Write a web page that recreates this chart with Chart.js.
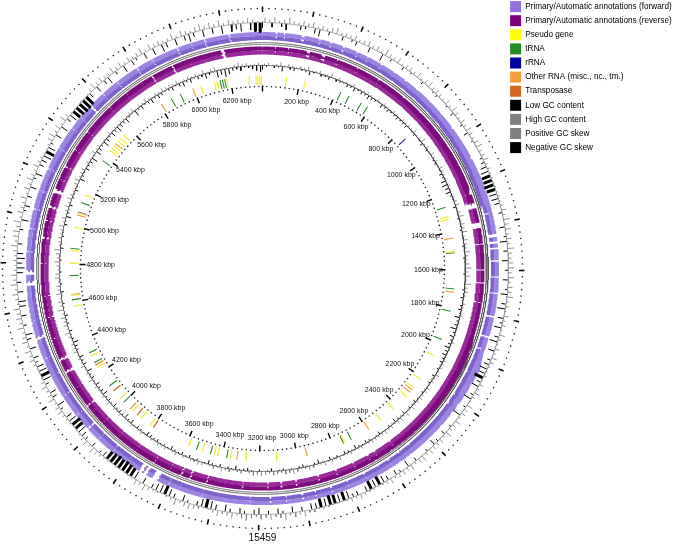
<!DOCTYPE html>
<html>
<head>
<meta charset="utf-8">
<title>Genome map</title>
<script src="https://cdn.jsdelivr.net/npm/chart.js@4"></script>
<style>
  html, body { margin: 0; padding: 0; background: #fff; }
  #wrap { position: relative; width: 677px; height: 545px; filter: blur(0.3px); }
</style>
</head>
<body>
<div id="wrap"><canvas id="map"></canvas></div>
<script>
const genomeLength = 6370;
const binSize = 20;
const tickKbp = [200, 400, 600, 800, 1000, 1200, 1400, 1600, 1800, 2000, 2200, 2400, 2600, 2800, 3000, 3200,
    3400, 3600, 3800, 4000, 4200, 4400, 4600, 4800, 5000, 5200, 5400, 5600, 5800, 6000, 6200];
const footerLabel = '15459';

const legendNames = ['Primary/Automatic annotations (forward)', 'Primary/Automatic annotations (reverse)', 'Pseudo gene',
    'tRNA', 'rRNA', 'Other RNA (misc., nc., tm.)', 'Transposase', 'Low GC content', 'High GC content',
    'Positive GC skew', 'Negative GC skew'];

// gaps between genes, centre and width in kbp
const forwardGaps = [175, 357, 536, 945, 1098, 1450, 1480, 1505, 1802, 1892, 2063, 2176, 2224, 2596, 2719, 2877, 3008,
    3663, 3710, 3733, 4025, 4473, 4712, 4760, 5036, 5545, 5803, 5997, 6120, 6228,
    60, 95, 250, 300, 420, 470, 600, 660, 720, 800, 870, 1000, 1160, 1250, 1350, 1560, 1630, 1700, 1950, 2000, 2120,
    2300, 2480, 2540, 2650, 2800, 2950, 3080, 3150, 3240, 3350, 3450, 3550, 3600, 3800, 3880, 3960, 4100, 4200, 4300,
    4380, 4550, 4620, 4850, 4950, 5120, 5220, 5320, 5420, 5480, 5620, 5700, 5880, 6060, 6180, 6300];
const forwardGapWidths = [10, 8, 6, 6, 8, 12, 8, 6, 6, 6, 6, 12, 12, 6, 6, 6, 5,
    28, 18, 18, 10, 12, 18, 18, 6, 10, 6, 6, 6, 6,
    3, 3, 3, 3, 3, 3, 3, 3, 3, 3, 3, 3, 3, 3, 3, 3, 3, 3, 3, 3, 3,
    3, 3, 3, 3, 3, 3, 3, 3, 3, 3, 3, 3, 3, 3, 3, 3, 3, 3, 3,
    3, 3, 3, 3, 3, 3, 3, 3, 3, 3, 3, 3, 3, 3, 3, 3];
const reverseGaps = [212, 283, 6188, 5947, 5843, 1232, 1300, 1393, 2541, 2628, 2665, 2743, 2831, 2920, 3026, 3097,
    3279, 3443, 3521, 3565, 4349, 4285, 4104, 5142, 5066, 4920, 5262,
    60, 120, 350, 450, 560, 700, 800, 900, 1000, 1100, 1180, 1480, 1600, 1660, 1750, 1900, 2000, 2080, 2200, 2300,
    2400, 2480, 3160, 3360, 3620, 3700, 3800, 3900, 4000, 4200, 4450, 4550, 4650, 4800, 5000, 5200, 5350, 5450,
    5600, 5700, 6030, 6100, 6270];
const reverseGapWidths = [13, 13, 18, 8, 8, 28, 23, 23, 8, 6, 6, 6, 6, 6, 6, 6,
    6, 6, 8, 8, 13, 13, 8, 18, 10, 8, 8,
    2, 2, 2, 2, 2, 2, 2, 2, 2, 2, 2, 2, 2, 2, 2, 2, 2, 2, 2, 2,
    2, 2, 2, 2, 2, 2, 2, 2, 2, 2, 2, 2, 2, 2, 2, 2, 2, 2,
    2, 2, 2, 2, 2];

// single features, position in kbp
const pseudoKbp = [127, 228, 1317, 1330, 1504, 2070, 2212, 2270, 2329, 2424, 2513, 2737, 3110, 3271, 3355, 3424, 3442,
    3508, 3585, 3815, 3875, 3933, 4027, 4230, 4300, 4577, 4636, 4805, 4873, 4996, 5075, 5175, 5445, 5460, 5478, 5510,
    5531, 5554, 6040, 6113, 6130, 6180, 6300, 6335, 6345, 6355, 6365];
const trnaKbp = [424, 471, 546, 584, 1265, 1510, 1700, 1819, 1975, 2700, 2745, 3375, 3463, 3540, 4000, 4114, 4260, 4318,
    4612, 4740, 4884, 5131, 5379, 5871, 5924, 6145, 6158, 6170];
const rrnaKbp = [846, 5078];
const otherRnaKbp = [1433, 1718, 2283, 2300, 2593, 2948, 3320, 3951, 4245, 4640, 5063, 5492, 5811, 5995];
const transposaseKbp = [3795, 3903, 4080, 4246];

// GC plots, one value per 20 kbp bin
const negativeSkew = [
    6, 0, 5, 0, 4, 7, 0, 0, 5, 3, 0, 6, 8, 0, 4, 0, 0, 5, 0, 3,
    5, 0, 0, 6, 0, 0, 8, 0, 3, 0, 0, 4, 0, 2, 0, 0, 3, 0, 0, 2,
    3, 0, 0, 2, 0, 4, 0, 0, 3, 0, 5, 0, 2, 0, 0, 0, 3, 4, 7, 9,
    10, 10, 11, 10, 9, 8, 6, 0, 4, 0, 0, 6, 0, 3, 8, 0, 5, 0, 7, 0,
    4, 0, 6, 0, 3, 7, 0, 5, 9, 0, 6, 3, 8, 0, 5, 9, 0, 7, 0, 4,
    6, 9, 7, 10, 5, 8, 0, 4, 9, 0, 3, 0, 9, 0, 0, 3, 0, 5, 0, 3,
    7, 0, 3, 0, 0, 4, 0, 8, 0, 3, 6, 0, 5, 8, 10, 9, 10, 6, 0, 5,
    4, 9, 10, 9, 10, 11, 9, 10, 6, 7, 0, 5, 0, 7, 0, 3, 6, 0, 4, 0,
    7, 5, 0, 3, 6, 0, 4, 8, 0, 6, 9, 10, 9, 5, 0, 3, 7, 0, 5, 8,
    10, 9, 8, 5, 0, 7, 0, 9, 10, 11, 12, 11, 12, 11, 10, 6, 3, 0, 5, 0,
    4, 6, 9, 10, 11, 9, 7, 0, 3, 8, 0, 5, 7, 0, 4, 9, 10, 9, 8, 3,
    6, 0, 7, 0, 5, 8, 0, 4, 0, 6, 0, 7, 8, 0, 6, 0, 5, 0, 7, 9,
    6, 9, 7, 0, 5, 0, 0, 4, 0, 8, 0, 3, 6, 0, 5, 0, 7, 0, 3, 8,
    0, 5, 6, 9, 10, 8, 3, 0, 7, 0, 8, 0, 5, 9, 10, 11, 12, 12, 11, 6,
    0, 7, 0, 5, 8, 0, 4, 0, 8, 0, 6, 3, 0, 7, 0, 8, 0, 9, 6, 0,
    8, 0, 6, 9, 5, 0, 8, 0, 7, 0, 9, 0, 8, 6, 9, 0, 8, 10, 11];
const positiveSkew = [
    6, 4, 7, 3, 5, 8, 4, 3, 6, 4, 7, 3, 5, 4, 6, 8, 3, 5, 4, 6,
    3, 5, 7, 4, 6, 3, 8, 5, 4, 7, 3, 5, 6, 4, 7, 3, 5, 8, 4, 6,
    5, 3, 6, 4, 8, 5, 3, 6, 4, 7, 5, 3, 6, 8, 4, 5, 7, 3, 4, 2,
    2, 1, 2, 1, 3, 2, 4, 6, 3, 8, 5, 7, 4, 6, 3, 8, 5, 4, 6, 7,
    4, 7, 3, 6, 5, 8, 3, 4, 2, 6, 3, 5, 2, 7, 4, 2, 6, 3, 7, 5,
    3, 2, 4, 1, 5, 3, 7, 4, 2, 8, 5, 6, 3, 7, 5, 4, 8, 3, 6, 4,
    5, 7, 4, 8, 6, 3, 7, 4, 6, 5, 3, 7, 4, 2, 1, 3, 2, 4, 6, 3,
    5, 2, 1, 2, 1, 2, 3, 1, 4, 3, 7, 4, 6, 3, 8, 5, 3, 7, 4, 6,
    3, 5, 8, 6, 3, 7, 5, 3, 7, 4, 2, 1, 3, 5, 7, 6, 3, 8, 4, 2,
    1, 2, 3, 5, 8, 4, 7, 2, 2, 1, 1, 2, 1, 2, 3, 4, 6, 8, 4, 7,
    5, 3, 2, 1, 2, 3, 4, 7, 6, 3, 8, 5, 4, 7, 5, 2, 1, 2, 3, 6,
    4, 8, 3, 7, 5, 3, 8, 4, 7, 5, 8, 3, 4, 7, 3, 8, 5, 7, 3, 2,
    4, 3, 5, 8, 4, 7, 8, 5, 9, 3, 7, 5, 4, 8, 3, 7, 4, 8, 5, 3,
    7, 4, 3, 2, 1, 3, 6, 8, 4, 7, 3, 8, 5, 2, 1, 1, 2, 1, 2, 4,
    8, 5, 7, 4, 3, 8, 4, 7, 3, 6, 4, 5, 8, 3, 7, 4, 6, 3, 4, 7,
    3, 7, 5, 3, 6, 8, 4, 7, 4, 8, 3, 6, 4, 5, 3, 6, 4, 2, 2];
const lowGC = [
    4, 1, 0, 2, 1, 5, 0, 2, 3, 0, 1, 2, 4, 1, 0, 2, 1, 3, 0, 2,
    2, 1, 3, 2, 4, 1, 3, 2, 4, 3, 2, 1, 4, 2, 3, 1, 2, 3, 1, 2,
    3, 0, 1, 2, 0, 1, 3, 0, 2, 1, 0, 1, 2, 0, 1, 3, 2, 5, 6, 4,
    5, 2, 1, 0, 3, 0, 1, 2, 0, 1, 2, 0, 1, 0, 2, 1, 0, 2, 1, 0,
    1, 2, 0, 1, 0, 2, 1, 3, 0, 2, 3, 1, 5, 2, 3, 6, 2, 4, 2, 3,
    5, 3, 4, 2, 3, 1, 2, 0, 3, 1, 2, 0, 1, 2, 0, 1, 3, 1, 2, 0,
    3, 1, 2, 4, 1, 2, 0, 1, 3, 1, 0, 2, 3, 1, 2, 4, 1, 2, 3, 0,
    2, 1, 3, 0, 1, 4, 2, 0, 1, 3, 2, 0, 1, 0, 2, 1, 0, 3, 1, 0,
    2, 0, 1, 3, 2, 1, 4, 1, 2, 0, 3, 1, 2, 4, 1, 0, 2, 1, 3, 1,
    3, 1, 2, 4, 1, 2, 1, 3, 2, 3, 4, 1, 2, 3, 1, 4, 2, 5, 2, 3,
    2, 4, 1, 3, 2, 5, 3, 2, 4, 1, 3, 2, 5, 1, 3, 2, 4, 1, 2, 3,
    5, 2, 1, 3, 0, 2, 1, 3, 0, 1, 2, 0, 1, 3, 0, 2, 1, 0, 2, 1,
    0, 2, 1, 0, 3, 1, 0, 2, 1, 0, 3, 1, 5, 2, 1, 3, 0, 2, 1, 3,
    1, 0, 5, 2, 1, 4, 2, 3, 6, 1, 5, 3, 2, 6, 4, 2, 5, 3, 6, 4,
    3, 5, 2, 1, 6, 2, 4, 1, 3, 5, 2, 4, 3, 1, 2, 4, 1, 3, 5, 2,
    4, 1, 3, 2, 5, 2, 1, 7, 5, 8, 6, 3, 2, 4, 1, 2, 3, 5, 6];
const highGC = [
    2, 3, 1, 2, 4, 1, 3, 2, 1, 3, 2, 4, 1, 2, 3, 1, 2, 4, 1, 3,
    1, 2, 1, 3, 1, 2, 1, 3, 2, 1, 2, 1, 3, 2, 1, 3, 2, 1, 3, 2,
    3, 2, 4, 1, 3, 5, 2, 3, 1, 4, 2, 3, 1, 4, 3, 2, 1, 1, 2, 1,
    1, 2, 3, 4, 1, 3, 5, 2, 4, 3, 5, 2, 4, 3, 2, 5, 3, 2, 4, 6,
    3, 5, 2, 6, 3, 4, 2, 1, 3, 2, 1, 3, 1, 2, 1, 1, 2, 1, 3, 1,
    2, 1, 1, 3, 2, 3, 2, 4, 2, 3, 1, 4, 3, 2, 4, 3, 2, 4, 2, 5,
    2, 4, 3, 1, 3, 2, 4, 3, 2, 3, 4, 2, 1, 3, 2, 1, 3, 2, 1, 4,
    2, 3, 1, 4, 2, 1, 3, 4, 2, 1, 3, 5, 3, 4, 2, 3, 4, 2, 3, 4,
    3, 4, 2, 1, 3, 2, 1, 3, 2, 4, 1, 3, 2, 1, 3, 4, 2, 3, 1, 3,
    1, 3, 2, 1, 3, 2, 3, 1, 2, 1, 1, 3, 2, 1, 3, 1, 2, 1, 3, 2,
    3, 1, 4, 2, 3, 1, 2, 3, 1, 4, 2, 3, 1, 4, 2, 3, 1, 4, 2, 3,
    1, 3, 5, 2, 4, 3, 5, 2, 6, 3, 4, 2, 5, 3, 4, 2, 5, 4, 2, 3,
    5, 3, 4, 6, 2, 3, 4, 2, 3, 5, 2, 4, 1, 3, 4, 2, 5, 3, 2, 1,
    4, 5, 2, 3, 4, 1, 3, 2, 1, 4, 2, 3, 1, 2, 1, 3, 1, 2, 1, 3,
    2, 1, 3, 4, 1, 3, 2, 4, 2, 1, 3, 2, 4, 3, 3, 2, 4, 1, 2, 3,
    2, 3, 2, 4, 1, 3, 4, 1, 1, 2, 1, 3, 4, 2, 3, 1, 2, 3, 1];

const minorStep = 25;
const cx = 262.5, cy = 268.5;
const radii = {
    outerDots: 260, outerTick: [256.5, 262], skewBase: 246, forwardOut: 234.5, forwardIn: 230.5,
    rail: [225.8, 224], reverseOut: 220, reverseIn: 216, gcBase: 203, feature: [184, 193],
    innerDots: 182, innerTick: [177, 183]
};

function polar(kbp, r) {
    const a = kbp / genomeLength * 2 * Math.PI;
    return { x: r * Math.sin(a), y: r * Math.cos(a) };
}
const BREAK = { x: null, y: null };

// polyline round the circle, leaving out the gaps
function ringPoints(r, gaps, widths) {
    const pts = [];
    for (let k = 0; k <= genomeLength; k += 1.5) {
        const inGap = gaps.some(function (g, i) { return Math.abs(k - g) <= widths[i] / 2; });
        pts.push(inGap ? BREAK : polar(k, r));
    }
    return pts;
}
function radialMarks(positions, r0, r1) {
    const pts = [];
    positions.forEach(function (k) { pts.push(polar(k, r0), polar(k, r1), BREAK); });
    return pts;
}
function spikes(values, base, dir, shift, scale) {
    const pts = [];
    values.forEach(function (v, i) {
        if (!v) return;
        const k = i * binSize + shift;
        pts.push(polar(k, base), polar(k, base + dir * v * scale), BREAK);
    });
    return pts;
}
function dots(r) {
    const pts = [];
    for (let k = 0; k < genomeLength; k += minorStep) pts.push(polar(k, r));
    return pts;
}
function lineSet(label, data, color, width) {
    return { label: label, data: data, showLine: true, borderColor: color, backgroundColor: color, borderWidth: width,
        pointRadius: 0, spanGaps: false, tension: 0, borderCapStyle: 'butt' };
}
function dotSet(label, data) {
    return { label: label, data: data, showLine: false, pointRadius: 0.8, pointBorderWidth: 0, pointBackgroundColor: '#222' };
}

const allTicks = [0].concat(tickKbp);
const noGaps = [], noWidths = [];
// bins at the top of the range merge into the solid black clusters
const skewClusters = negativeSkew.map(function (v) { return v >= 10 ? v : 0; });

const datasets = [
    dotSet('outer scale', dots(radii.outerDots)),
    lineSet('outer ticks', radialMarks(allTicks, radii.outerTick[0], radii.outerTick[1]), '#000', 1.5),
    lineSet('skew base', ringPoints(radii.skewBase, noGaps, noWidths), '#9a9a9a', 0.8),
    lineSet('Positive GC skew', spikes(positiveSkew, radii.skewBase, 1, 10, 0.8), '#858585', 0.9),
    lineSet('Negative GC skew', spikes(negativeSkew, radii.skewBase, -1, 0, 0.9), '#000', 1),
    lineSet('skew clusters', spikes(skewClusters, radii.skewBase, -1, 0, 0.9), '#000', 3),
    lineSet('forward outer', ringPoints(radii.forwardOut, forwardGaps, forwardGapWidths), '#9b84e2', 4),
    lineSet('Primary/Automatic annotations (forward)', ringPoints(radii.forwardIn, forwardGaps, forwardGapWidths), '#7e62cc', 4),
    lineSet('rail outer', ringPoints(radii.rail[0], noGaps, noWidths), '#555', 1),
    lineSet('rail inner', ringPoints(radii.rail[1], noGaps, noWidths), '#666', 1),
    lineSet('Primary/Automatic annotations (reverse)', ringPoints(radii.reverseOut, reverseGaps, reverseGapWidths), '#7c0c7e', 4),
    lineSet('reverse inner', ringPoints(radii.reverseIn, reverseGaps, reverseGapWidths), '#9a2a9c', 4),
    lineSet('gc base', ringPoints(radii.gcBase, noGaps, noWidths), '#444', 0.8),
    lineSet('High GC content', spikes(highGC, radii.gcBase, 1, 10, 1), '#858585', 0.9),
    lineSet('Low GC content', spikes(lowGC, radii.gcBase, -1, 0, 1), '#000', 1),
    lineSet('Pseudo gene', radialMarks(pseudoKbp, radii.feature[0], radii.feature[1]), '#f2ef3c', 1.3),
    lineSet('tRNA', radialMarks(trnaKbp, radii.feature[0], radii.feature[1]), '#2b8a2b', 1.1),
    lineSet('rRNA', radialMarks(rrnaKbp, radii.feature[0], radii.feature[1]), '#1a1aa0', 1.1),
    lineSet('Other RNA (misc., nc., tm.)', radialMarks(otherRnaKbp, radii.feature[0], radii.feature[1]), '#eda24a', 1.2),
    lineSet('Transposase', radialMarks(transposaseKbp, radii.feature[0], radii.feature[1]), '#d4691e', 1.2),
    dotSet('inner scale', dots(radii.innerDots)),
    lineSet('inner ticks', radialMarks(allTicks, radii.innerTick[0], radii.innerTick[1]), '#000', 1.4)
];

const legendColors = ['#9370db', '#800080', '#ffff00', '#228b22', '#00009c', '#f2a03c', '#d2691e', '#000', '#808080', '#808080', '#000'];

// legend sits over the empty top right corner and the scale labels go inside the ring
const mapLabels = {
    id: 'mapLabels',
    afterLayout: function (chart) {
        const lg = chart.legend;
        lg.left = 507; lg.right = 677; lg.top = -2; lg.bottom = 300; lg.width = 170; lg.height = 302;
    },
    afterDatasetsDraw: function (chart) {
        const ctx = chart.ctx, sx = chart.scales.x, sy = chart.scales.y;
        ctx.save();
        ctx.font = '7px "Liberation Sans", Arial, sans-serif';
        ctx.fillStyle = '#111';
        ctx.textAlign = 'center';
        ctx.textBaseline = 'middle';
        tickKbp.forEach(function (k) {
            const a = k / genomeLength * 2 * Math.PI;
            const x = Math.sin(a) * 164 + 2, y = Math.cos(a) * 170;
            ctx.fillText(k + ' kbp', sx.getPixelForValue(x), sy.getPixelForValue(y));
        });
        ctx.font = '10px "Liberation Sans", Arial, sans-serif';
        ctx.fillText(footerLabel, sx.getPixelForValue(0), sy.getPixelForValue(-270));
        ctx.restore();
    }
};

new Chart(document.getElementById('map'), {
    type: 'scatter',
    data: { datasets: datasets },
    plugins: [mapLabels],
    options: {
        responsive: true,
        maintainAspectRatio: false,
        animation: false,
        events: [],
        layout: { padding: 0, autoPadding: false },
        scales: {
            x: { type: 'linear', display: false, min: -cx, max: 677 - cx },
            y: { type: 'linear', display: false, min: cy - 545, max: cy }
        },
        plugins: {
            tooltip: { enabled: false },
            title: { display: false },
            legend: {
                position: 'chartArea',
                align: 'start',
                labels: {
                    boxWidth: 11,
                    boxHeight: 11,
                    padding: 3.1,
                    color: '#444',
                    font: { family: "'Liberation Sans', Arial, sans-serif", size: 8.2 },
                    generateLabels: function () {
                        return legendNames.map(function (name, i) {
                            return { text: name, fillStyle: legendColors[i], strokeStyle: legendColors[i], lineWidth: 0, hidden: false, datasetIndex: i };
                        });
                    }
                }
            }
        }
    }
});
</script>
</body>
</html>
